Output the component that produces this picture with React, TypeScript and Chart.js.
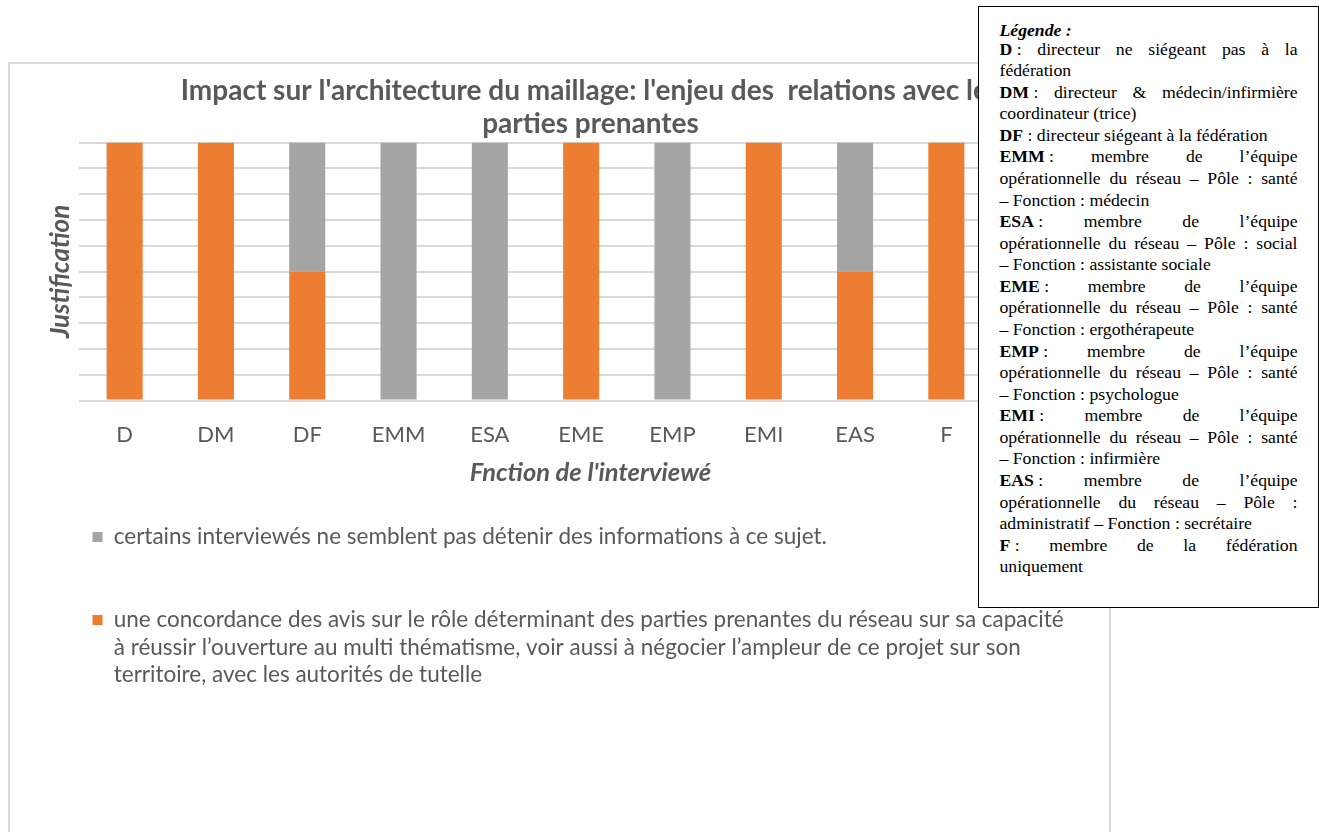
import React, { useEffect, useRef } from "react";
import { Chart, registerables } from "chart.js";

Chart.register(...registerables);

const categories = ["D", "DM", "DF", "EMM", "ESA", "EME", "EMP", "EMI", "EAS", "F"];
const concordanceValues = [10, 10, 5, 0, 0, 10, 0, 10, 5, 10];
const sansInfoValues = [0, 0, 5, 10, 10, 0, 10, 0, 5, 0];
const concordanceLabel = [
  "une concordance des avis sur le rôle déterminant des parties prenantes du réseau sur sa capacité",
  "à réussir l’ouverture au multi thématisme, voir aussi à négocier l’ampleur de ce projet sur son",
  "territoire, avec les autorités de tutelle",
];
const sansInfoLabel = "certains interviewés ne semblent pas détenir des informations à ce sujet.";
const titleLines = [
  "Impact sur l'architecture du maillage: l'enjeu des  relations avec les",
  "parties prenantes",
];
const xTitle = "Fnction de l'interviewé";
const yTitle = "Justification";

// Side legend box (abbreviation, wrapped lines of its description)
const legendEntries: [string, string[]][] = [
  ["D", ["directeur ne siégeant pas à la", "fédération"]],
  ["DM", ["directeur & médecin/infirmière", "coordinateur (trice)"]],
  ["DF", ["directeur siégeant à la fédération"]],
  ["EMM", ["membre de l’équipe", "opérationnelle du réseau – Pôle : santé", "– Fonction : médecin"]],
  ["ESA", ["membre de l’équipe", "opérationnelle du réseau – Pôle : social", "– Fonction : assistante sociale"]],
  ["EME", ["membre de l’équipe", "opérationnelle du réseau – Pôle : santé", "– Fonction : ergothérapeute"]],
  ["EMP", ["membre de l’équipe", "opérationnelle du réseau – Pôle : santé", "– Fonction : psychologue"]],
  ["EMI", ["membre de l’équipe", "opérationnelle du réseau – Pôle : santé", "– Fonction : infirmière"]],
  ["EAS", ["membre de l’équipe", "opérationnelle du réseau – Pôle :", "administratif – Fonction : secrétaire"]],
  ["F", ["membre de la fédération", "uniquement"]],
];

const ORANGE = "#ED7D31";
const GRAY = "#A5A5A5";
const TEXT = "#595959";
const FONT = "Lato, 'Open Sans', sans-serif";

const legendRoom = {
  id: "legendRoom",
  afterLayout(chart: any) {
    const l = chart.legend;
    if (l) {
      l.bottom += 120;
      l.height += 120;
    }
  },
};

export default function App() {
  const canvasRef = useRef<HTMLCanvasElement | null>(null);

  useEffect(() => {
    if (!canvasRef.current) return;
    const chart = new Chart(canvasRef.current, {
      type: "bar",
      data: {
        labels: categories,
        datasets: [
          {
            label: concordanceLabel as any,
            data: concordanceValues,
            backgroundColor: ORANGE,
            borderWidth: 0,
            stack: "s",
            categoryPercentage: 1,
            barPercentage: 0.395,
          },
          {
            label: sansInfoLabel,
            data: sansInfoValues,
            backgroundColor: GRAY,
            borderWidth: 0,
            stack: "s",
            categoryPercentage: 1,
            barPercentage: 0.395,
          },
        ],
      },
      plugins: [legendRoom],
      options: {
        responsive: false,
        animation: false,
        devicePixelRatio: 1,
        layout: { padding: { left: 22, right: 0, top: 0, bottom: 162.75 } },
        plugins: {
          title: {
            display: true,
            text: titleLines,
            color: TEXT,
            font: { family: FONT, size: 28, weight: "bold", lineHeight: 1.18 },
            padding: { top: 10.5, bottom: 2 },
          },
          subtitle: {
            display: true,
            position: "bottom",
            weight: 500,
            text: xTitle,
            color: TEXT,
            font: { family: FONT, size: 25.5, weight: "bold", style: "italic", lineHeight: 1.2 },
            padding: { top: 9.5, bottom: -23.05 },
          },
          legend: {
            display: true,
            position: "bottom",
            align: "start",
            reverse: true,
            labels: {
              color: TEXT,
              font: { family: FONT, size: 22.5, lineHeight: 1.22 },
              boxWidth: 10,
              boxHeight: 10,
              padding: 60.5,
            },
          },
          tooltip: { enabled: false },
        },
        scales: {
          x: {
            stacked: true,
            grid: { display: false, drawTicks: false },
            border: { display: false },
            ticks: {
              color: TEXT,
              font: { family: FONT, size: 22, lineHeight: 1.2 },
              padding: 21.3,
            },
            afterFit: (s: any) => {
              s.height -= 21.3;
            },
          },
          y: {
            stacked: true,
            min: 0,
            max: 10,
            ticks: { display: false, stepSize: 1 },
            grid: { color: "#D9D9D9", lineWidth: 2, drawTicks: false },
            border: { display: false },
            title: {
              display: true,
              text: yTitle,
              color: TEXT,
              font: { family: FONT, size: 26, weight: "bold", style: "italic", lineHeight: 1.2 },
              padding: { top: 13.4, bottom: 2.4 },
            },
          },
          yRight: {
            type: "linear",
            position: "right",
            display: true,
            ticks: { display: false },
            grid: { display: false, drawTicks: false },
            border: { display: false },
            afterFit: (s: any) => {
              s.width = 157;
            },
          },
        },
      },
    } as any);
    return () => chart.destroy();
  }, []);

  const lineStyle = (last: boolean): React.CSSProperties =>
    (last
      ? { textAlign: "left", whiteSpace: "nowrap" }
      : { textAlign: "justify", textAlignLast: "justify", whiteSpace: "nowrap" }) as any;

  return (
    <div
      style={{
        position: "fixed",
        left: 0,
        top: 0,
        width: 1319,
        height: 832,
        overflow: "hidden",
        background: "#fff",
      }}
    >
      <div
        style={{
          position: "absolute",
          left: 8,
          top: 62,
          width: 1103,
          height: 820,
          boxSizing: "border-box",
          border: "2px solid #D9D9D9",
          background: "#fff",
        }}
      />
      <canvas
        ref={canvasRef}
        width={1139}
        height={740}
        style={{ position: "absolute", left: 10, top: 64 }}
      />
      <div
        style={{
          position: "absolute",
          left: 978,
          top: 6,
          width: 341,
          height: 602,
          boxSizing: "border-box",
          border: "1.5px solid #000",
          background: "#fff",
          padding: "13.5px 20.5px 0 20.5px",
          fontFamily: "'Liberation Serif', 'Times New Roman', serif",
          fontSize: 17.7,
          lineHeight: "21.58px",
          color: "#000",
        }}
      >
        <div style={{ fontWeight: "bold", fontStyle: "italic", lineHeight: "18px" }}>Légende :</div>
        {legendEntries.map(([abbr, lines]) =>
          lines.map((ln, i) => (
            <div key={abbr + i} style={lineStyle(i === lines.length - 1)}>
              {i === 0 ? (
                <>
                  <span style={{ display: "inline-block" }}>
                    <b>{abbr}</b>{"\u00A0:"}
                  </span>{" "}
                </>
              ) : null}
              {ln}
            </div>
          ))
        )}
      </div>
    </div>
  );
}
